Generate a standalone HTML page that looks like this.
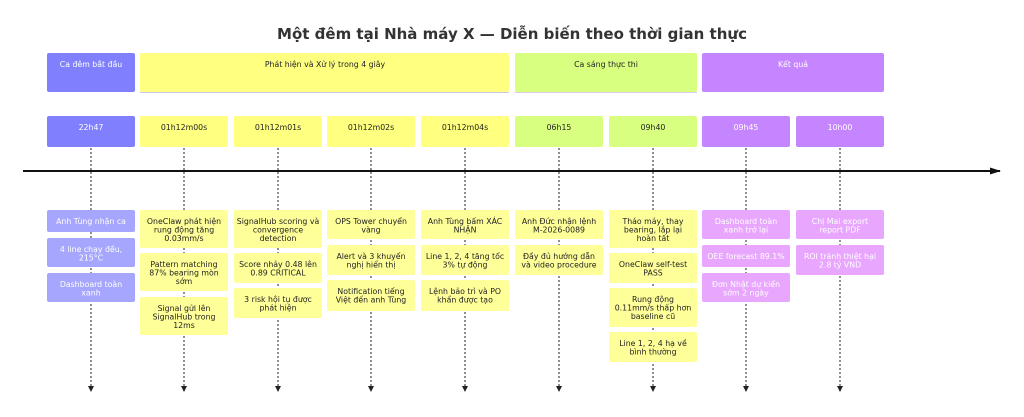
<!DOCTYPE html>
<html><head><meta charset="utf-8"><style>
html,body{margin:0;padding:0;background:#fff}
svg{display:block}
text{font-family:"DejaVu Sans","Liberation Sans",sans-serif;font-size:7.8px;text-anchor:middle}
.t{font-size:15px;font-weight:bold;fill:#333}
.w{fill:#fff}.d{fill:#222}
.dl{stroke:#222;stroke-width:1;stroke-dasharray:2,2}
</style></head><body>
<svg width="1024" height="417" viewBox="0 0 1024 417">
<defs><marker id="a" markerUnits="userSpaceOnUse" markerWidth="6" markerHeight="6" refX="5" refY="3" orient="auto"><path d="M0,0L6,3L0,6z" fill="#222"/></marker>
<marker id="b" markerUnits="userSpaceOnUse" markerWidth="11" markerHeight="8" refX="10" refY="4" orient="auto"><path d="M0,0.5L11,4L0,7.5z" fill="#111"/></marker></defs>
<text class="t" x="512" y="39">Một đêm tại Nhà máy X — Diễn biến theo thời gian thực</text>
<g class="dl">
<line x1="91" y1="148" x2="91" y2="391" marker-end="url(#a)"/>
<line x1="184" y1="148" x2="184" y2="391" marker-end="url(#a)"/>
<line x1="278" y1="148" x2="278" y2="391" marker-end="url(#a)"/>
<line x1="371" y1="148" x2="371" y2="391" marker-end="url(#a)"/>
<line x1="465" y1="148" x2="465" y2="391" marker-end="url(#a)"/>
<line x1="559" y1="148" x2="559" y2="391" marker-end="url(#a)"/>
<line x1="653" y1="148" x2="653" y2="391" marker-end="url(#a)"/>
<line x1="746" y1="148" x2="746" y2="391" marker-end="url(#a)"/>
<line x1="840" y1="148" x2="840" y2="391" marker-end="url(#a)"/>
</g>
<line x1="23" y1="171" x2="1000" y2="171" stroke="#111" stroke-width="2" marker-end="url(#b)"/>
<rect x="47" y="53" width="88" height="39" rx="2" fill="#8080ff"/><text class="w" x="91" y="67">Ca đêm bắt đầu</text>
<rect x="140" y="53" width="369" height="39" rx="2" fill="#ffff80"/><line x1="140" y1="92.5" x2="509" y2="92.5" stroke="#c8c8f0"/><text class="d" x="325" y="67">Phát hiện và Xử lý trong 4 giây</text>
<rect x="515" y="53" width="182" height="39" rx="2" fill="#d9ff80"/><line x1="515" y1="92.5" x2="697" y2="92.5" stroke="#ddc8f0"/><text class="d" x="606" y="67">Ca sáng thực thi</text>
<rect x="702" y="53" width="182" height="39" rx="2" fill="#c585ff"/><text class="w" x="793" y="67">Kết quả</text>
<g>
<rect x="47" y="116" width="88" height="31" rx="2" fill="#8080ff"/><text class="w" x="91" y="130">22h47</text>
<rect x="140" y="116" width="88" height="31" rx="2" fill="#ffff80"/><text class="d" x="184" y="130">01h12m00s</text>
<rect x="234" y="116" width="88" height="31" rx="2" fill="#ffff80"/><text class="d" x="278" y="130">01h12m01s</text>
<rect x="327" y="116" width="88" height="31" rx="2" fill="#ffff80"/><text class="d" x="371" y="130">01h12m02s</text>
<rect x="421" y="116" width="88" height="31" rx="2" fill="#ffff80"/><text class="d" x="465" y="130">01h12m04s</text>
<rect x="515" y="116" width="88" height="31" rx="2" fill="#d9ff80"/><text class="d" x="559" y="130">06h15</text>
<rect x="609" y="116" width="88" height="31" rx="2" fill="#d9ff80"/><text class="d" x="653" y="130">09h40</text>
<rect x="702" y="116" width="88" height="31" rx="2" fill="#c585ff"/><text class="w" x="746" y="130">09h45</text>
<rect x="796" y="116" width="88" height="31" rx="2" fill="#c585ff"/><text class="w" x="840" y="130">10h00</text>
</g>
<g fill="#a6a6ff">
<rect x="47" y="210" width="88" height="22" rx="2"/><rect x="47" y="238" width="88" height="29" rx="2"/><rect x="47" y="273" width="88" height="29" rx="2"/></g>
<text class="w" x="91" y="224">Anh Tùng nhận ca</text>
<text class="w" x="91" y="252">4 line chạy đều,</text><text class="w" x="91" y="260.5">215°C</text>
<text class="w" x="91" y="287">Dashboard toàn</text><text class="w" x="91" y="295.5">xanh</text>
<g fill="#ffff99">
<rect x="140" y="210" width="88" height="38" rx="2"/><rect x="140" y="253" width="88" height="38" rx="2"/><rect x="140" y="297" width="88" height="38" rx="2"/>
<rect x="234" y="210" width="88" height="38" rx="2"/><rect x="234" y="253" width="88" height="30" rx="2"/><rect x="234" y="288" width="88" height="30" rx="2"/>
<rect x="327" y="210" width="88" height="29" rx="2"/><rect x="327" y="245" width="88" height="30" rx="2"/><rect x="327" y="280" width="88" height="31" rx="2"/>
<rect x="421" y="210" width="88" height="29" rx="2"/><rect x="421" y="245" width="88" height="30" rx="2"/><rect x="421" y="280" width="88" height="31" rx="2"/>
<rect x="515" y="210" width="88" height="29" rx="2"/><rect x="515" y="245" width="88" height="30" rx="2"/>
<rect x="609" y="210" width="88" height="38" rx="2"/><rect x="609" y="253" width="88" height="30" rx="2"/><rect x="609" y="288" width="88" height="39" rx="2"/><rect x="609" y="332" width="88" height="30" rx="2"/>
</g>
<g fill="#e8a6ff">
<rect x="702" y="210" width="88" height="29" rx="2"/><rect x="702" y="245" width="88" height="22" rx="2"/><rect x="702" y="273" width="88" height="29" rx="2"/>
<rect x="796" y="210" width="88" height="29" rx="2"/><rect x="796" y="245" width="88" height="30" rx="2"/>
</g>
<g class="d">
<text x="184" y="224">OneClaw phát hiện</text><text x="184" y="232.5">rung động tăng</text><text x="184" y="241">0.03mm/s</text>
<text x="184" y="267">Pattern matching</text><text x="184" y="275.5">87% bearing mòn</text><text x="184" y="284">sớm</text>
<text x="184" y="311">Signal gửi lên</text><text x="184" y="319.5">SignalHub trong</text><text x="184" y="328">12ms</text>
<text x="278" y="224">SignalHub scoring và</text><text x="278" y="232.5">convergence</text><text x="278" y="241">detection</text>
<text x="278" y="267">Score nhảy 0.48 lên</text><text x="278" y="275.5">0.89 CRITICAL</text>
<text x="278" y="302">3 risk hội tụ được</text><text x="278" y="310.5">phát hiện</text>
<text x="371" y="224">OPS Tower chuyển</text><text x="371" y="232.5">vàng</text>
<text x="371" y="259">Alert và 3 khuyến</text><text x="371" y="267.5">nghị hiển thị</text>
<text x="371" y="294">Notification tiếng</text><text x="371" y="302.5">Việt đến anh Tùng</text>
<text x="465" y="224">Anh Tùng bấm XÁC</text><text x="465" y="232.5">NHẬN</text>
<text x="465" y="259">Line 1, 2, 4 tăng tốc</text><text x="465" y="267.5">3% tự động</text>
<text x="465" y="294">Lệnh bảo trì và PO</text><text x="465" y="302.5">khẩn được tạo</text>
<text x="559" y="224">Anh Đức nhận lệnh</text><text x="559" y="232.5">M-2026-0089</text>
<text x="559" y="259">Đầy đủ hướng dẫn</text><text x="559" y="267.5">và video procedure</text>
<text x="653" y="224">Tháo máy, thay</text><text x="653" y="232.5">bearing, lắp lại</text><text x="653" y="241">hoàn tất</text>
<text x="653" y="267">OneClaw self-test</text><text x="653" y="275.5">PASS</text>
<text x="653" y="302">Rung động</text><text x="653" y="310.5">0.11mm/s thấp hơn</text><text x="653" y="319">baseline cũ</text>
<text x="653" y="346">Line 1, 2, 4 hạ về</text><text x="653" y="354.5">bình thường</text>
</g>
<g class="w">
<text x="746" y="224">Dashboard toàn</text><text x="746" y="232.5">xanh trở lại</text>
<text x="746" y="259">OEE forecast 89.1%</text>
<text x="746" y="287">Đơn Nhật dự kiến</text><text x="746" y="295.5">sớm 2 ngày</text>
<text x="840" y="224">Chị Mai export</text><text x="840" y="232.5">report PDF</text>
<text x="840" y="259">ROI tránh thiệt hại</text><text x="840" y="267.5">2.8 tỷ VND</text>
</g>
</svg>
</body></html>
